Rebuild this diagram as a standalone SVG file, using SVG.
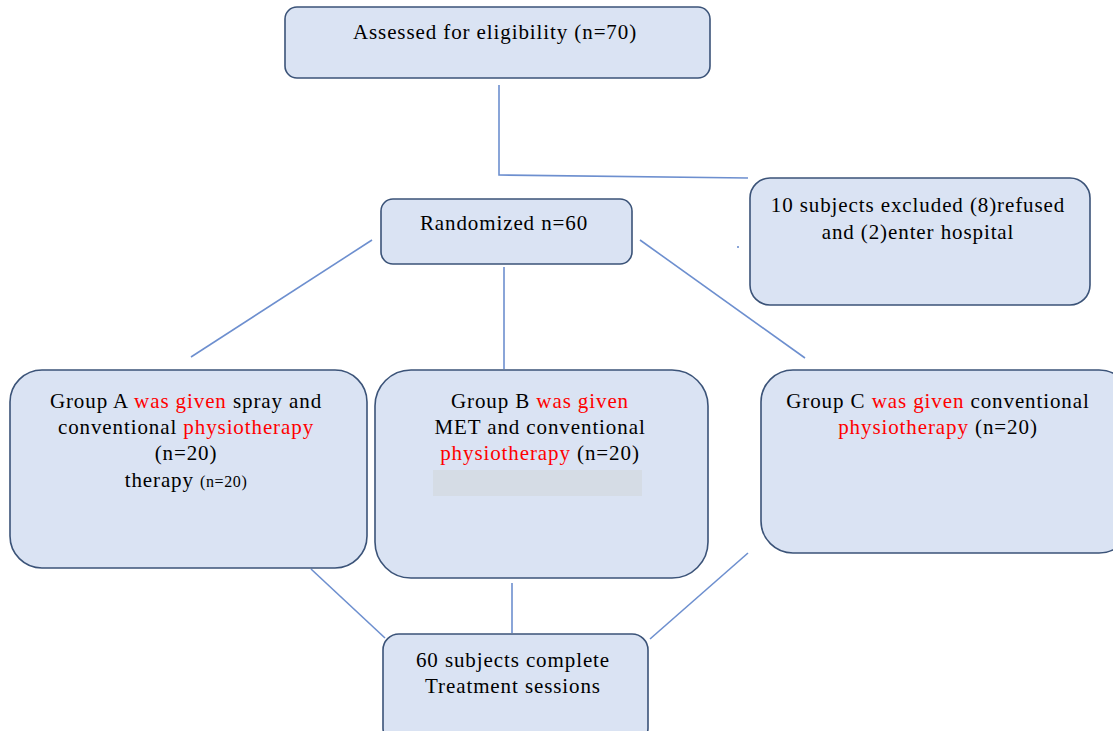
<svg xmlns="http://www.w3.org/2000/svg" width="1113" height="731" viewBox="0 0 1113 731">
<style>
.box{fill:#dae3f3;stroke:#3b5378;stroke-width:1.6}
.c{stroke:#6d8fcf;stroke-width:1.6;fill:none}
text{font-family:"Liberation Serif","Times New Roman",serif;font-size:21px;letter-spacing:0.9px;fill:#000;text-anchor:middle}
.r{fill:#ff0000}
.s{font-size:16px;letter-spacing:0.6px}
</style>
<rect width="1113" height="731" fill="#fff"/>
<g id="connectors">
<polyline class="c" points="499,85 499,175 748,178"/>
<line class="c" x1="738" y1="246" x2="738" y2="248"/>
<line class="c" x1="372" y1="240" x2="191" y2="357"/>
<line class="c" x1="504" y1="267" x2="504" y2="369"/>
<line class="c" x1="640" y1="240" x2="805" y2="358"/>
<line class="c" x1="311" y1="569" x2="385" y2="638"/>
<line class="c" x1="512" y1="583" x2="512" y2="633"/>
<line class="c" x1="748" y1="553" x2="650" y2="639"/>
</g>
<g id="assessed">
<rect class="box" x="285" y="7" width="425" height="71" rx="12"/>
<text x="495" y="39">Assessed for eligibility (n=70)</text>
</g>
<g id="excluded">
<rect class="box" x="750" y="178" width="340" height="127" rx="20"/>
<text x="918" y="212">10 subjects excluded (8)refused</text>
<text x="918" y="239">and (2)enter hospital</text>
</g>
<g id="randomized">
<rect class="box" x="381" y="199" width="251" height="65" rx="12"/>
<text x="504" y="230">Randomized n=60</text>
</g>
<g id="groupA">
<rect class="box" x="10" y="370" width="357" height="198" rx="32"/>
<text x="186" y="408">Group A <tspan class="r">was given</tspan> spray and</text>
<text x="186" y="434">conventional <tspan class="r">physiotherapy</tspan></text>
<text x="186" y="460">(n=20)</text>
<text x="186" y="487">therapy <tspan class="s">(n=20)</tspan></text>
</g>
<g id="groupB">
<rect class="box" x="375" y="370" width="333" height="208" rx="36"/>
<text x="540" y="408">Group B <tspan class="r">was given</tspan></text>
<text x="540" y="434">MET and conventional</text>
<text x="540" y="460"><tspan class="r">physiotherapy</tspan> (n=20)</text>
<rect x="433" y="470" width="209" height="26" fill="#d5dce5"/>
</g>
<g id="groupC">
<rect class="box" x="761" y="370" width="370" height="183" rx="32"/>
<text x="938" y="408">Group C <tspan class="r">was given</tspan> conventional</text>
<text x="938" y="434"><tspan class="r">physiotherapy</tspan> (n=20)</text>
</g>
<g id="complete">
<rect class="box" x="383" y="634" width="265" height="110" rx="16"/>
<text x="513" y="667">60 subjects complete</text>
<text x="513" y="693">Treatment sessions</text>
</g>
</svg>
